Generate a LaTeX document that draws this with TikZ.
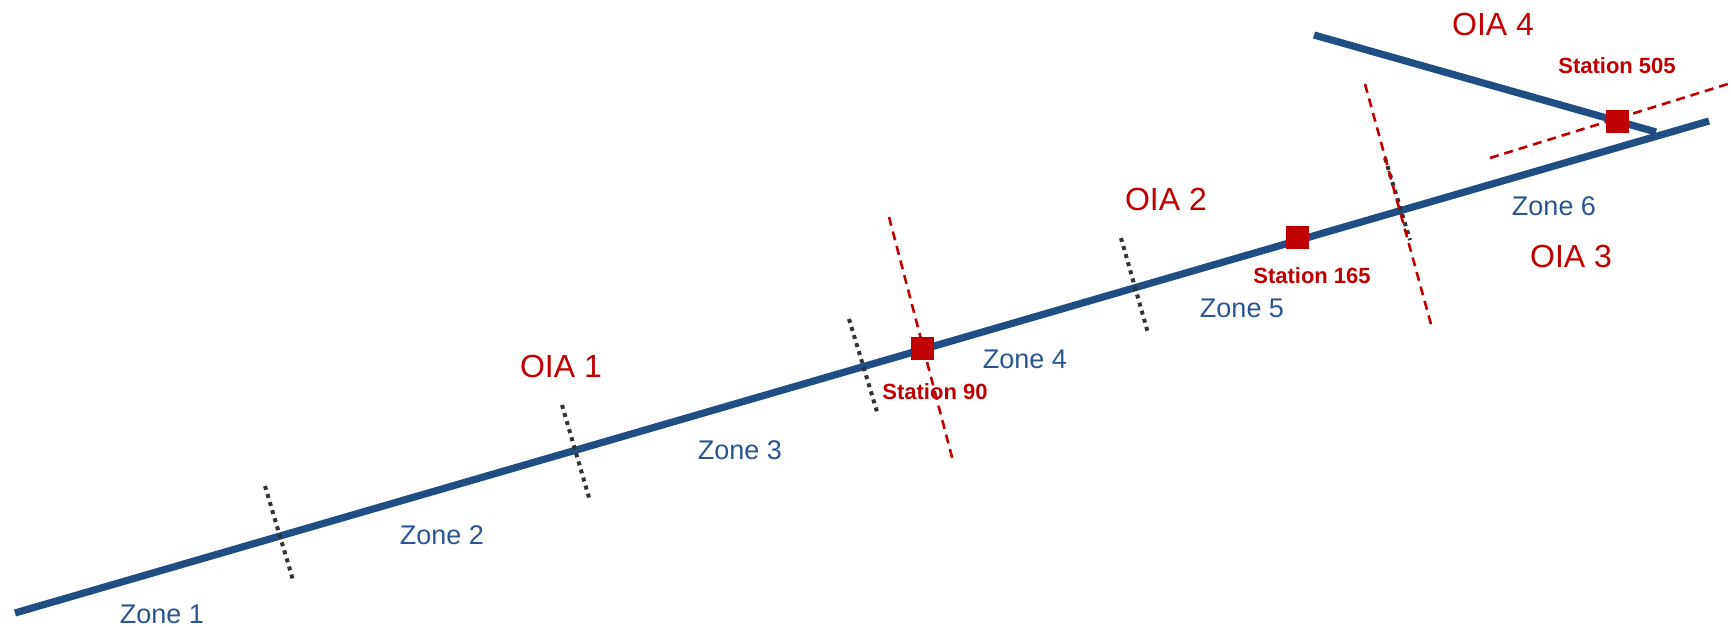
\documentclass[tikz,border=0pt]{standalone}
\usepackage{fontspec}
\setmainfont{Liberation Sans}
\definecolor{trackblue}{RGB}{33,77,133}
\definecolor{zoneblue}{RGB}{43,84,146}
\definecolor{oiared}{RGB}{192,0,0}

\begin{document}
\begin{tikzpicture}[
    x=0.5pt, y=-0.5pt,
    track/.style={draw=trackblue, line width=3.6pt},
    boundary/.style={draw=oiared, line width=1.3pt, dash pattern=on 4.5pt off 3pt},
    zoneline/.style={draw=black!80, line width=2pt, dash pattern=on 2pt off 2.2pt},
    station/.style={rectangle, fill=oiared, minimum size=11.5pt, inner sep=0pt},
    zone/.style={text=zoneblue, inner sep=0pt, font=\fontsize{13.5}{16}\selectfont},
    oia/.style={text=oiared, inner sep=0pt, font=\fontsize{16}{19}\selectfont},
    stationlabel/.style={text=oiared, inner sep=0pt, font=\bfseries\fontsize{11}{13}\selectfont}
  ]
  \useasboundingbox (0,0) rectangle (1731,627);

  % track
  \coordinate (west) at (15,613);
  \coordinate (east) at (1709,121);
  \coordinate (spur) at (1314,35);
  \coordinate (junction) at (1656,132);

  % zone boundaries
  \coordinate (z12a) at (265,486);  \coordinate (z12b) at (293,580);
  \coordinate (z23a) at (562,405);  \coordinate (z23b) at (590,501);
  \coordinate (z34a) at (849,319);  \coordinate (z34b) at (878,415);
  \coordinate (z45a) at (1121,238); \coordinate (z45b) at (1148,333);
  \coordinate (z56a) at (1385,158); \coordinate (z56b) at (1410,240);

  % oia boundaries
  \coordinate (b12a) at (889,217);  \coordinate (b12b) at (953,461);
  \coordinate (b23a) at (1365,84);  \coordinate (b23b) at (1432,328);
  \coordinate (b34a) at (1490,158); \coordinate (b34b) at (1731,83);

  \draw[track] (west) -- (east);
  \draw[track] (spur) -- (junction);

  \draw[zoneline] (z12a) -- (z12b);
  \draw[zoneline] (z23a) -- (z23b);
  \draw[zoneline] (z34a) -- (z34b);
  \draw[zoneline] (z45a) -- (z45b);
  \draw[zoneline] (z56a) -- (z56b);

  \draw[boundary] (b12a) -- (b12b);
  \draw[boundary] (b23a) -- (b23b);
  \draw[boundary] (b34a) -- (b34b);

  % stations
  \node[station] (s90) at (922,348) {};
  \node[station] (s165) at (1297,237) {};
  \node[station] (s505) at (1617,121) {};

  \node[stationlabel] (l90) at (935,392) {Station 90};
  \node[stationlabel] (l165) at (1312,276) {Station 165};
  \node[stationlabel] (l505) at (1617,66) {Station 505};

  % zones
  \node[zone] (zone1) at (162,614) {Zone 1};
  \node[zone] (zone2) at (442,535) {Zone 2};
  \node[zone] (zone3) at (740,450) {Zone 3};
  \node[zone] (zone4) at (1025,359) {Zone 4};
  \node[zone] (zone5) at (1242,308) {Zone 5};
  \node[zone] (zone6) at (1554,206) {Zone 6};

  % areas
  \node[oia] (oia1) at (561,366) {OIA 1};
  \node[oia] (oia2) at (1166,199) {OIA 2};
  \node[oia] (oia3) at (1571,256) {OIA 3};
  \node[oia] (oia4) at (1493,24) {OIA 4};
\end{tikzpicture}
\end{document}
